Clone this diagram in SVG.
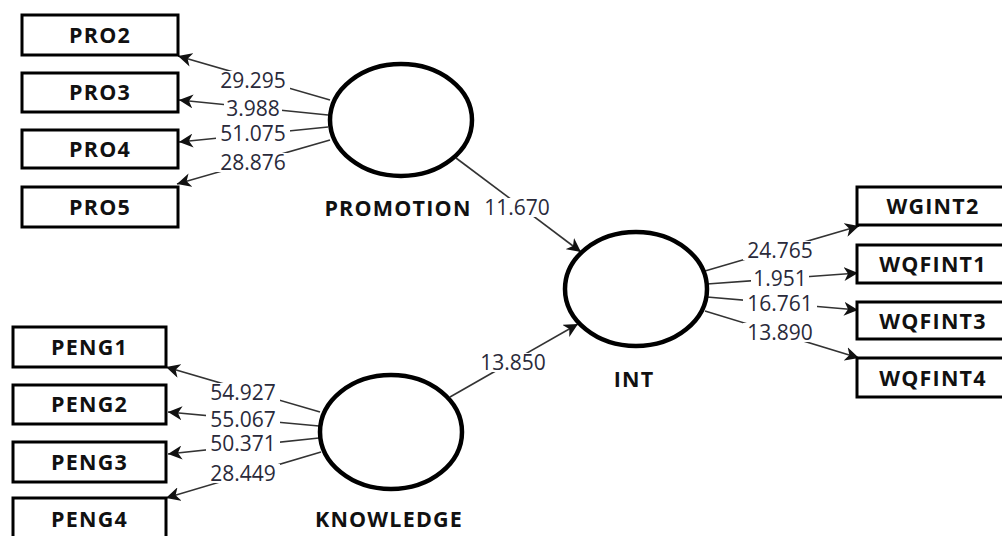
<svg xmlns="http://www.w3.org/2000/svg" width="1002" height="536" viewBox="0 0 1002 536">
<style>
.box{fill:#fff;stroke:#000;stroke-width:3}
.lv{fill:#fff;stroke:#000;stroke-width:4.5}
.bl{font-family:"Open Sans","Noto Sans",sans-serif;font-weight:bold;font-size:21.5px;letter-spacing:1.2px;fill:#111;text-anchor:middle}
.num{font-family:"Open Sans","Noto Sans",sans-serif;font-size:21px;fill:#2a2a3a;text-anchor:middle}
.bg{fill:#fff}
.ln{stroke:#333;stroke-width:1.6;fill:none;marker-end:url(#ah)}
</style>
<defs>
<marker id="ah" markerUnits="userSpaceOnUse" markerWidth="16" markerHeight="14" refX="14" refY="7" orient="auto">
<path d="M0,0 L14,7 L0,14 L4,7 Z" fill="#111"/>
</marker>
</defs>
<g id="connectors">
<line class="ln" x1="330" y1="100" x2="178" y2="56"/>
<line class="ln" x1="328" y1="115" x2="179" y2="100"/>
<line class="ln" x1="328" y1="127" x2="179" y2="142"/>
<line class="ln" x1="330" y1="140" x2="177" y2="184"/>
<line class="ln" x1="456" y1="158" x2="581" y2="252"/>
<line class="ln" x1="450" y1="397" x2="578" y2="324"/>
<line class="ln" x1="320" y1="412" x2="166" y2="367"/>
<line class="ln" x1="319" y1="426" x2="168" y2="412"/>
<line class="ln" x1="319" y1="438" x2="168" y2="454"/>
<line class="ln" x1="321" y1="452" x2="166" y2="498"/>
<line class="ln" x1="705" y1="271" x2="859" y2="226"/>
<line class="ln" x1="707" y1="284" x2="858" y2="273"/>
<line class="ln" x1="707" y1="297" x2="858" y2="310"/>
<line class="ln" x1="705" y1="311" x2="859" y2="358"/>
<rect class="bg" x="216" y="71" width="74" height="19"/>
<rect class="bg" x="224" y="99" width="58" height="19"/>
<rect class="bg" x="216" y="124" width="74" height="19"/>
<rect class="bg" x="216" y="153" width="74" height="19"/>
<rect class="bg" x="480" y="198" width="74" height="19"/>
<rect class="bg" x="476" y="353" width="74" height="19"/>
<rect class="bg" x="206" y="383" width="74" height="19"/>
<rect class="bg" x="206" y="410" width="74" height="19"/>
<rect class="bg" x="206" y="434" width="74" height="19"/>
<rect class="bg" x="206" y="464" width="74" height="19"/>
<rect class="bg" x="743" y="241" width="74" height="19"/>
<rect class="bg" x="751" y="269" width="58" height="19"/>
<rect class="bg" x="743" y="294" width="74" height="19"/>
<rect class="bg" x="743" y="323" width="74" height="19"/>
<text class="num" x="253" y="88">29.295</text>
<text class="num" x="253" y="116">3.988</text>
<text class="num" x="253" y="141">51.075</text>
<text class="num" x="253" y="170">28.876</text>
<text class="num" x="517" y="215">11.670</text>
<text class="num" x="513" y="370">13.850</text>
<text class="num" x="243" y="400">54.927</text>
<text class="num" x="243" y="427">55.067</text>
<text class="num" x="243" y="451">50.371</text>
<text class="num" x="243" y="481">28.449</text>
<text class="num" x="780" y="258">24.765</text>
<text class="num" x="780" y="286">1.951</text>
<text class="num" x="780" y="311">16.761</text>
<text class="num" x="780" y="340">13.890</text>
</g>
<g id="PRO2"><rect class="box" x="22" y="15" width="156" height="40"/><text class="bl" x="100" y="43">PRO2</text></g>
<g id="PRO3"><rect class="box" x="22" y="73" width="156" height="39"/><text class="bl" x="100" y="100">PRO3</text></g>
<g id="PRO4"><rect class="box" x="22" y="130" width="156" height="38"/><text class="bl" x="100" y="157">PRO4</text></g>
<g id="PRO5"><rect class="box" x="22" y="187" width="156" height="40"/><text class="bl" x="100" y="215">PRO5</text></g>
<g id="PENG1"><rect class="box" x="13" y="327" width="153" height="40"/><text class="bl" x="89.5" y="355">PENG1</text></g>
<g id="PENG2"><rect class="box" x="13" y="385" width="153" height="39"/><text class="bl" x="89.5" y="412">PENG2</text></g>
<g id="PENG3"><rect class="box" x="13" y="442" width="153" height="40"/><text class="bl" x="89.5" y="470">PENG3</text></g>
<g id="PENG4"><rect class="box" x="13" y="498" width="153" height="50"/><text class="bl" x="89.5" y="527">PENG4</text></g>
<g id="WGINT2"><rect class="box" x="857" y="187" width="153" height="38"/><text class="bl" x="933" y="214">WGINT2</text></g>
<g id="WQFINT1"><rect class="box" x="857" y="245" width="153" height="38"/><text class="bl" x="933" y="272">WQFINT1</text></g>
<g id="WQFINT3"><rect class="box" x="857" y="302" width="153" height="37"/><text class="bl" x="933" y="329">WQFINT3</text></g>
<g id="WQFINT4"><rect class="box" x="857" y="358" width="153" height="39"/><text class="bl" x="933" y="386">WQFINT4</text></g>
<g id="PROMOTION"><ellipse class="lv" cx="401" cy="120" rx="71" ry="56"/><text class="bl" x="398" y="216">PROMOTION</text></g>
<g id="KNOWLEDGE"><ellipse class="lv" cx="391" cy="432" rx="71" ry="57"/><text class="bl" x="389" y="527">KNOWLEDGE</text></g>
<g id="INT"><ellipse class="lv" cx="636" cy="289" rx="71" ry="57"/><text class="bl" x="634" y="387">INT</text></g>
</svg>
